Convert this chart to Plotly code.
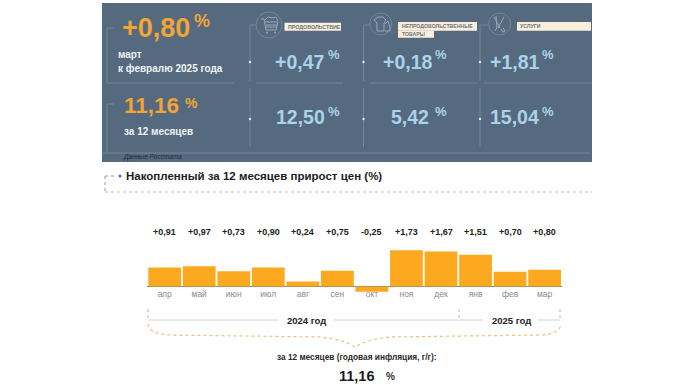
import plotly.graph_objects as go

months = ["апр","май","июн","июл","авг","сен","окт","ноя","дек","янв","фев","мар"]
values = [0.91,0.97,0.73,0.90,0.24,0.75,-0.25,1.73,1.67,1.51,0.70,0.80]
value_labels = ["+0,91","+0,97","+0,73","+0,90","+0,24","+0,75","-0,25","+1,73","+1,67","+1,51","+0,70","+0,80"]

W, H = 690, 385
FONT = "Liberation Sans"
ORANGE = "#f2a536"
BLUE = "#a9d3e8"
PANEL = "#55697f"
LINE = "#72869c"
BAR = "#fca91f"

def X(x): return x / W
def Y(y): return 1 - y / H

shapes, ann = [], []

def rect(x0, y0, x1, y1, color):
    shapes.append(dict(type="rect", xref="paper", yref="paper", x0=X(x0), x1=X(x1), y0=Y(y0), y1=Y(y1),
                       fillcolor=color, line_width=0, layer="below"))

def line(x0, y0, x1, y1, color=LINE, width=1, dash="solid"):
    shapes.append(dict(type="line", xref="paper", yref="paper", x0=X(x0), x1=X(x1), y0=Y(y0), y1=Y(y1),
                       line=dict(color=color, width=width, dash=dash), layer="below"))

def dot(x, y, r=1.2, color="#dfe7ee"):
    shapes.append(dict(type="circle", xref="paper", yref="paper", x0=X(x-r), x1=X(x+r), y0=Y(y+r), y1=Y(y-r),
                       fillcolor=color, line_width=0))

def circle(x, y, r):
    shapes.append(dict(type="circle", xref="paper", yref="paper", x0=X(x-r), x1=X(x+r), y0=Y(y+r), y1=Y(y-r),
                       fillcolor="rgba(0,0,0,0)", line=dict(color=LINE, width=1)))

def path(pts, color="#9aa9b9", width=1, fill="rgba(0,0,0,0)"):
    d = "M" + " L".join(f"{X(a):.5f},{Y(b):.5f}" for a, b in pts)
    shapes.append(dict(type="path", xref="paper", yref="paper", path=d, fillcolor=fill,
                       line=dict(color=color, width=width)))

def text(x, y, s, size, color="#222222", bold=True, anchor="left", italic=False):
    t = f"<b>{s}</b>" if bold else s
    if italic:
        t = f"<i>{t}</i>"
    ann.append(dict(xref="paper", yref="paper", x=X(x), y=Y(y), text=t, showarrow=False, xanchor=anchor,
                    yanchor="middle", borderpad=0, font=dict(family=FONT, size=size, color=color)))

# panel
rect(102, 3, 592, 162, PANEL)

# panel rules
line(107, 28, 114, 28); line(107, 28, 107, 83); line(107, 83, 234, 83)
line(107, 104, 114, 104); line(107, 104, 107, 153); line(103, 153, 590, 153)
for cx, x0, x1 in [(250, 256, 343), (363.5, 370, 477), (480, 484, 592)]:
    line(cx, 25, cx, 81); line(cx, 88, cx, 147); line(x0, 83, x1, 83)
    dot(cx, 62); dot(cx, 119)
line(250, 25, 256, 25); line(363.5, 25, 369, 25); line(480, 25, 488, 25)

# icons
circle(269, 25, 13); circle(380.7, 24, 11); circle(499.7, 24, 11)
path([(261,19),(264,19),(266,30),(276,30),(278,22),(264.5,22)])
path([(266,27),(277,27)]); path([(266,25),(277.5,25)])
dot(267, 32.5, 1, "#9aa9b9"); dot(275, 32.5, 1, "#9aa9b9")
path([(265,20),(268,17),(272,18),(276,17),(278,21)])
path([(374,20),(378,17),(383,17),(386,20),(384,23),(384,31),(377,31),(377,23),(374,20)])
path([(385,24),(388,21),(390,28),(390,31),(385,31)])
path([(494,17),(500,28)]); path([(504,17),(498,28)]); path([(496,16),(497,28),(495,31)]); path([(503,28),(505,31),(503,32),(501,29)])

# category tags
rect(284.5, 22.7, 341, 30.7, "#fbeedb")
rect(398, 22, 477, 30.7, "#fbeedb"); rect(398, 30.7, 434, 37.7, "#fbeedb")
rect(517, 22, 591, 30.7, "#fbeedb")
text(287, 26.7, "ПРОДОВОЛЬСТВИЕ", 5.3, "#6a7480")
text(400.5, 26.5, "НЕПРОДОВОЛЬСТВЕННЫЕ", 5.2, "#6a7480")
text(400.5, 34.2, "ТОВАРЫ", 5.2, "#6a7480")
text(519, 26.5, "УСЛУГИ", 5.2, "#6a7480")

# panel figures
text(120.5, 28, "+0,80", 27, ORANGE); text(193, 21, "%", 18, ORANGE)
text(117, 55, "март", 10, "#f1f3f5"); text(117, 68, "к февралю 2025 года", 10, "#f1f3f5")
text(123, 106, "11,16", 22.5, ORANGE); text(184, 103, "%", 14, ORANGE)
text(123, 131, "за 12 месяцев", 10, "#f1f3f5")
text(122, 157, "Данные Росстата", 6.5, "#1f2a36", bold=False, italic=True)
for xt, xp, yt, yp, s in [(274, 327, 62, 55, "+0,47"), (275, 327, 117, 111, "12,50"),
                          (382, 434, 62, 55, "+0,18"), (390, 434, 117, 111, "5,42"),
                          (489, 541, 62, 55, "+1,81"), (489, 541, 117, 111, "15,04")]:
    text(xt, yt, s, 19.5, BLUE); text(xp, yp, "%", 13, BLUE)

# heading
text(125, 176, "Накопленный за 12 месяцев прирост цен (%)", 11.5, "#1d1d1d")
dot(120, 176, 1.5, "#55697f")
line(105, 176, 116, 176, "#9a9a9a", 1, "dot"); line(105, 176, 105, 192, "#9a9a9a", 1, "dot")
line(105, 192, 592, 192, "#bdbdbd", 1, "dot")

# year bracket
GR = "#d2d2d2"
line(148, 309, 148, 320, "#b5b5b5", 1, "dot"); line(459, 309, 459, 320, "#b5b5b5", 1, "dot"); line(560, 309, 560, 320, "#b5b5b5", 1, "dot")
line(148, 320, 278, 320, GR); line(334, 320, 483, 320, GR); line(538, 320, 560, 320, GR)
text(306.5, 320, "2024 год", 9.5, "#222222", anchor="center")
text(511, 320, "2025 год", 9.5, "#222222", anchor="center")
shapes.append(dict(type="path", xref="paper", yref="paper",
    path=(f"M{X(148)},{Y(324)} Q{X(149)},{Y(334)} {X(170)},{Y(335)} L{X(320)},{Y(337)} Q{X(342)},{Y(339)} {X(355)},{Y(347)} "
          f"Q{X(368)},{Y(339)} {X(390)},{Y(337)} L{X(540)},{Y(335)} Q{X(560)},{Y(334)} {X(561)},{Y(324)}"),
    fillcolor="rgba(0,0,0,0)", line=dict(color="#eec274", width=1.2, dash="dot")))

text(357, 357, "за 12 месяцев (годовая инфляция, г/г):", 8.3, "#2a2a2a", anchor="center")
text(357, 376, "11,16", 14.5, "#1d1d1d", anchor="center")
text(385, 376, "%", 10, "#333333")

# value labels over the bars
for m, lab in zip(months, value_labels):
    ann.append(dict(xref="x", yref="paper", x=m, y=Y(232), text=f"<b>{lab}</b>", showarrow=False, yanchor="middle",
                    font=dict(family=FONT, size=9, color="#222222")))

fig = go.Figure(go.Bar(x=months, y=values, marker=dict(color=BAR, line_width=0), width=0.95,
                       cliponaxis=False, hoverinfo="skip"))
fig.update_layout(
    width=W, height=H, margin=dict(l=0, r=0, t=0, b=0), autosize=False,
    paper_bgcolor="white", plot_bgcolor="rgba(0,0,0,0)", showlegend=False,
    shapes=shapes, annotations=ann,
    xaxis=dict(domain=[X(147.4), X(561.9)], range=[-0.5, 11.5], type="category", showgrid=False, showline=False,
               ticks="", tickfont=dict(family=FONT, size=8.5, color="#8a8a8a"), zeroline=False, ticklabelstandoff=-5),
    yaxis=dict(domain=[Y(292.8), Y(244.5)], range=[-0.3, 2.0], showgrid=False, showticklabels=False, ticks="",
               zeroline=True, zerolinecolor="#7f7f7f", zerolinewidth=1, showline=False),
)
fig.write_html("out.html", config=dict(displayModeBar=False),
               post_script="document.body.style.margin='0';document.documentElement.style.overflow='hidden';")
